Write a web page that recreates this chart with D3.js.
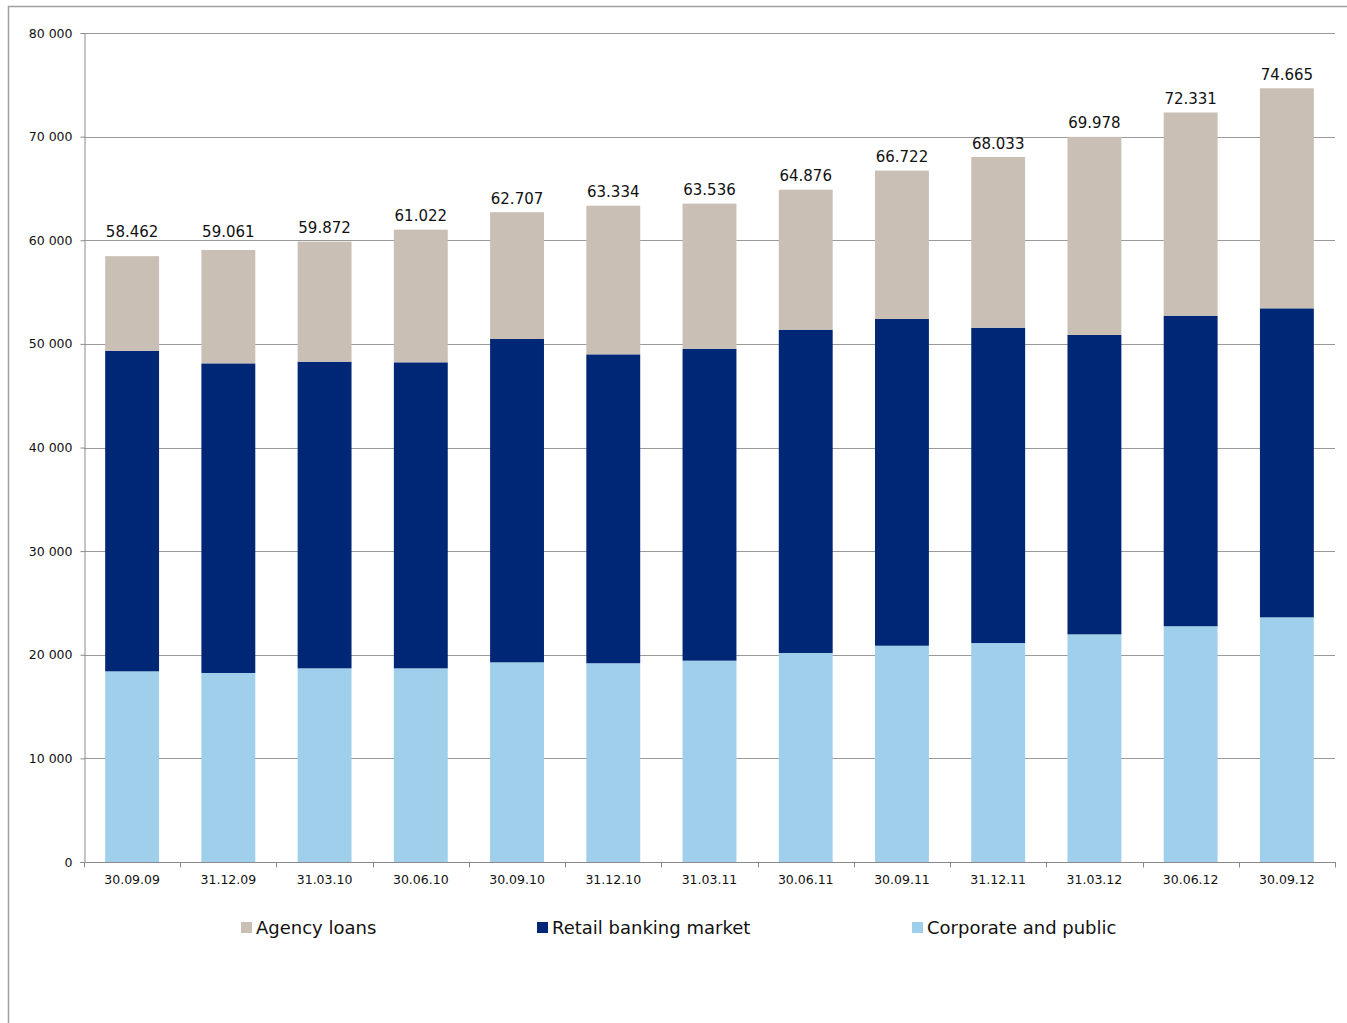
<!DOCTYPE html>
<html>
<head>
<meta charset="utf-8">
<script src="https://cdn.jsdelivr.net/npm/d3@7"></script>
<style>
  html, body { margin: 0; padding: 0; background: #fff; }
  svg { display: block; font-family: "DejaVu Sans", Verdana, sans-serif; }
</style>
</head>
<body>
<svg id="chart" width="1347" height="1023"></svg>
<script>
// Loan portfolio by segment, quarterly (NOK million)
const periods = ["30.09.09", "31.12.09", "31.03.10", "30.06.10", "30.09.10", "31.12.10",
                 "31.03.11", "30.06.11", "30.09.11", "31.12.11", "31.03.12", "30.06.12", "30.09.12"];
const corporate = [18400, 18240, 18690, 18690, 19270, 19180, 19430, 20170, 20870, 21130, 21970, 22750, 23610];
const retail    = [30940, 29880, 29590, 29530, 31200, 29810, 30100, 31200, 31530, 30430, 28890, 29970, 29820];
const agency    = [ 9122, 10941, 11592, 12802, 12237, 14344, 14006, 13506, 14322, 16473, 19118, 19611, 21235];
const yTicks = [0, 10000, 20000, 30000, 40000, 50000, 60000, 70000, 80000];

const seriesNames = ["Corporate and public", "Retail banking market", "Agency loans"];
const seriesColors = ["#9FCFEB", "#002776", "#C9BFB5"];

const rows = periods.map((p, i) => ({
  period: p,
  "Corporate and public": corporate[i],
  "Retail banking market": retail[i],
  "Agency loans": agency[i]
}));

const svg = d3.select("#chart");
const margin = { left: 84, right: 1335, top: 33, bottom: 862 };

// Outer frame
svg.append("path")
  .attr("d", "M8.5,1023 V6.5 H1347")
  .attr("fill", "none").attr("stroke", "#a0a0a0").attr("stroke-width", 1.5);

const x = d3.scaleBand().domain(periods).range([margin.left, margin.right])
  .paddingInner(0.44).paddingOuter(0.22);
const y = d3.scaleLinear().domain([0, 80000]).range([margin.bottom, margin.top]);

const spaceFmt = d3.formatLocale({ decimal: ",", thousands: " ", grouping: [3], currency: ["", ""] }).format(",d");
const dotFmt = d3.formatLocale({ decimal: ",", thousands: ".", grouping: [3], currency: ["", ""] }).format(",d");

// Horizontal gridlines
const gridY = yTicks.filter(t => t > 0).map(t => Math.round(y(t)) + 0.5);
svg.append("g")
  .selectAll("line").data(gridY).join("line")
  .attr("x1", margin.left).attr("x2", margin.right)
  .attr("y1", d => d).attr("y2", d => d)
  .attr("stroke", "#9a9a9a").attr("stroke-width", 1);

// Stacked bars
const stack = d3.stack().keys(seriesNames)(rows);
svg.append("g").selectAll("g").data(stack).join("g")
  .attr("fill", (d, i) => seriesColors[i])
  .selectAll("rect").data(d => d).join("rect")
  .attr("x", d => x(d.data.period))
  .attr("width", x.bandwidth())
  .attr("y", d => y(d[1]))
  .attr("height", d => y(d[0]) - y(d[1]));

// Total labels above each bar; lifted clear of a gridline when they would cross it
const totals = rows.map((r, i) => corporate[i] + retail[i] + agency[i]);
function labelBaseline(total) {
  let base = y(total) - 8.5;
  const crossing = gridY.find(g => g > base - 9 && g < base + 1);
  if (crossing !== undefined) base = crossing - 3.5;
  return base;
}
svg.append("g").selectAll("text").data(periods).join("text")
  .attr("x", p => x(p) + x.bandwidth() / 2)
  .attr("y", (p, i) => labelBaseline(totals[i]))
  .attr("text-anchor", "middle")
  .attr("font-size", "15px").attr("fill", "#111")
  .text((p, i) => dotFmt(totals[i]));

// Y axis
const yAxis = svg.append("g")
  .attr("transform", `translate(${margin.left + 0.5},0)`)
  .call(d3.axisLeft(y).tickValues(yTicks).tickSize(4).tickPadding(8).tickFormat(spaceFmt));
yAxis.selectAll("path, line").attr("stroke", "#8a8a8a");
yAxis.selectAll("text").attr("font-size", "12.5px").attr("fill", "#111")
  .attr("font-family", "DejaVu Sans, Verdana, sans-serif");

// X axis with ticks at band boundaries
const xAxisG = svg.append("g").attr("transform", `translate(0,${margin.bottom + 0.5})`);
xAxisG.append("line")
  .attr("x1", margin.left - 4).attr("x2", margin.right + 1)
  .attr("stroke", "#8a8a8a");
const boundaries = d3.range(periods.length + 1).map(i => margin.left + i * (margin.right - margin.left) / periods.length);
xAxisG.selectAll("line.tick").data(boundaries).join("line").attr("class", "tick")
  .attr("x1", d => Math.round(d) + 0.5).attr("x2", d => Math.round(d) + 0.5)
  .attr("y1", 0).attr("y2", 5).attr("stroke", "#8a8a8a");
xAxisG.selectAll("text").data(periods).join("text")
  .attr("x", p => x(p) + x.bandwidth() / 2)
  .attr("y", 21.5)
  .attr("text-anchor", "middle")
  .attr("font-size", "12.5px").attr("fill", "#111")
  .text(p => p);

// Legend
const legendItems = [
  { name: "Agency loans", color: seriesColors[2], x: 241 },
  { name: "Retail banking market", color: seriesColors[1], x: 537 },
  { name: "Corporate and public", color: seriesColors[0], x: 912 }
];
const legend = svg.append("g").selectAll("g").data(legendItems).join("g")
  .attr("transform", d => `translate(${d.x},922)`);
legend.append("rect").attr("width", 11).attr("height", 11).attr("fill", d => d.color);
legend.append("text").attr("x", 15).attr("y", 12)
  .attr("font-size", "18px").attr("fill", "#111")
  .text(d => d.name);
</script>
</body>
</html>
